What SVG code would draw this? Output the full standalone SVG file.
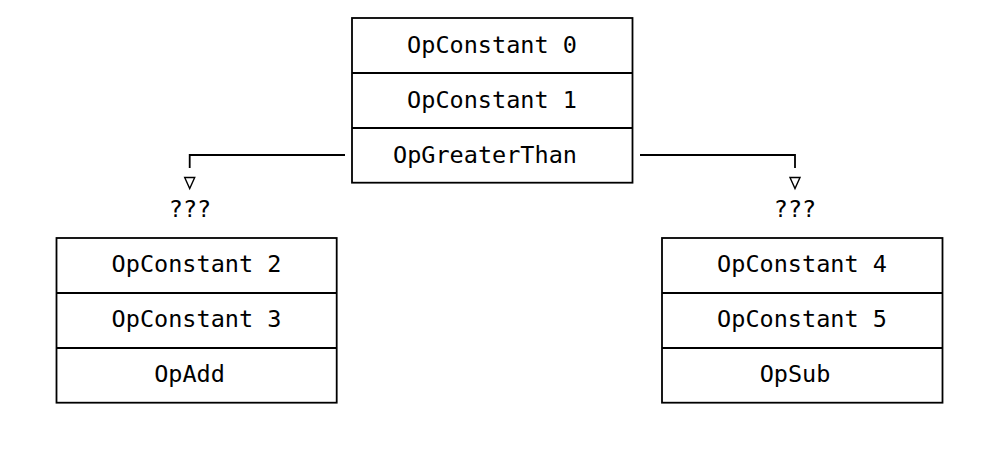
<svg xmlns="http://www.w3.org/2000/svg" width="996" height="451" viewBox="0 0 996 451">
<style>
.box{fill:none;stroke:#000;stroke-width:1.8}
.div{stroke:#000;stroke-width:1.8}
.t{font-family:"DejaVu Sans Mono","Liberation Mono",monospace;font-size:23.5px;fill:#000;text-anchor:middle}
.c{fill:none;stroke:#000;stroke-width:1.8}
.tri{fill:#fff;stroke:#000;stroke-width:1.4;stroke-linejoin:miter}
</style>
<rect width="996" height="451" fill="#fff"/>
<g id="connectors">
<path class="c" d="M345,155 H189.7 V168"/>
<polygon class="tri" points="184.7,177.5 194.7,177.5 189.7,188.5"/>
<path class="c" d="M640,155 H795 V168"/>
<polygon class="tri" points="790,177.5 800,177.5 795,188.5"/>
</g>
<g id="top">
<rect class="box" x="352" y="18" width="280.5" height="164.7"/>
<line class="div" x1="352" y1="73" x2="632.5" y2="73"/>
<line class="div" x1="352" y1="128" x2="632.5" y2="128"/>
<text class="t" x="492" y="53.3">OpConstant 0</text>
<text class="t" x="492" y="108.3">OpConstant 1</text>
<text class="t" x="485" y="163.3">OpGreaterThan</text>
</g>
<g id="label-left"><text class="t" x="190" y="217">???</text></g>
<g id="label-right"><text class="t" x="795" y="217">???</text></g>
<g id="left">
<rect class="box" x="56.5" y="238" width="280.2" height="164.7"/>
<line class="div" x1="56.5" y1="293" x2="336.7" y2="293"/>
<line class="div" x1="56.5" y1="348" x2="336.7" y2="348"/>
<text class="t" x="196.5" y="272">OpConstant 2</text>
<text class="t" x="196.5" y="327">OpConstant 3</text>
<text class="t" x="189.5" y="382">OpAdd</text>
</g>
<g id="right">
<rect class="box" x="662" y="238" width="280.5" height="164.7"/>
<line class="div" x1="662" y1="293" x2="942.5" y2="293"/>
<line class="div" x1="662" y1="348" x2="942.5" y2="348"/>
<text class="t" x="802" y="272">OpConstant 4</text>
<text class="t" x="802" y="327">OpConstant 5</text>
<text class="t" x="795" y="382">OpSub</text>
</g>
</svg>
